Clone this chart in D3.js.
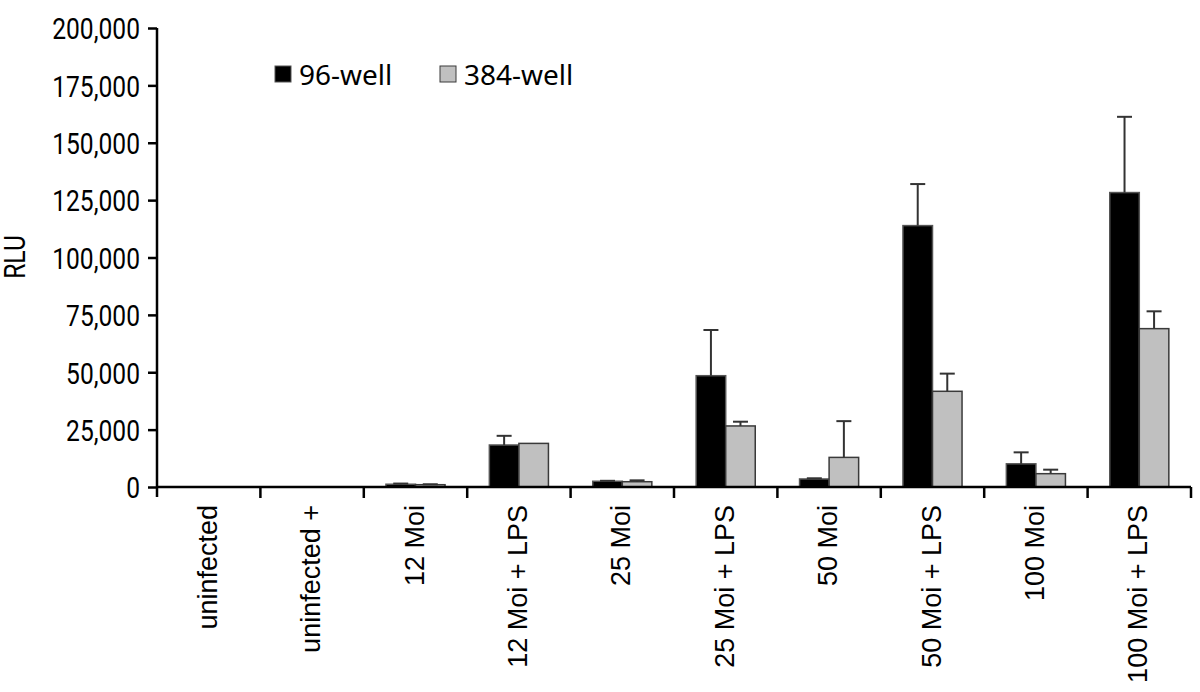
<!DOCTYPE html>
<html>
  <head>
    <meta http-equiv="content-type" content="text/html; charset=utf-8" />
    <title>RLU 96-well vs 384-well</title>
    <script type="text/javascript" src="https://cdn.jsdelivr.net/npm/d3@7"></script>
    <style type="text/css">
      body { margin: 0; background: #fff; }
    </style>
  </head>
  <body>
    <script type="text/javascript">
// values, bar heights and the upper error
      var categories = ["uninfected", "uninfected +", "12 Moi", "12 Moi + LPS",
                        "25 Moi", "25 Moi + LPS", "50 Moi", "50 Moi + LPS",
                        "100 Moi", "100 Moi + LPS"];
      var series = ["96-well", "384-well"];
      var well96 = [0, 0, 1200, 18300, 2500, 48500, 3500, 113900, 10100, 128300];
      var err96 = [0, 0, 300, 4000, 200, 19900, 300, 18100, 5000, 33000];
      var well384 = [0, 0, 1000, 19000, 2300, 26600, 12900, 41700, 5800, 69000];
      var err384 = [0, 0, 200, 0, 600, 1850, 15800, 7700, 1750, 7550];
      var yTicks = [0, 25000, 50000, 75000, 100000, 125000, 150000, 175000, 200000];

// note: "top" is taken by window.top, so plotTop / plotBottom
      var w = 1200,
          h = 692,
          plotLeft = 157,
          plotRight = 1191,
          plotTop = 28,
          plotBottom = 487;

      var fills = {"96-well": "#000", "384-well": "#c0c0c0"};
      var strokes = {"96-well": "#555", "384-well": "#3a3a3a"};

      var svg = d3.select("body").append("svg")
        .attr("width", w)
        .attr("height", h);

      var x0 = d3.scaleBand()
        .domain(categories)
        .range([plotLeft, plotRight])
        .paddingInner(0)
        .paddingOuter(0);

      var x1 = d3.scaleBand()
        .domain(series)
        .range([0, x0.bandwidth()])
        .paddingInner(0)
        .paddingOuter(0.75);

      var y = d3.scaleLinear()
        .domain([0, 200000])
        .range([plotBottom, plotTop]);

      var rows = categories.map(function(c, i) {
        return [
          {cat: c, s: "96-well", v: well96[i], e: err96[i]},
          {cat: c, s: "384-well", v: well384[i], e: err384[i]}
        ];
      });
      var flat = [].concat.apply([], rows);

// bars
      svg.append("g").selectAll("rect")
        .data(flat)
        .enter()
          .append("rect")
          .attr("x", function(d) { return x0(d.cat) + x1(d.s); })
          .attr("y", function(d) { return y(d.v); })
          .attr("width", x1.bandwidth())
          .attr("height", function(d) { return y(0) - y(d.v); })
          .attr("fill", function(d) { return fills[d.s]; })
          .attr("stroke", function(d) { return strokes[d.s]; })
          .attr("stroke-width", 1.5);

// error bars, only the upper half is drawn
      var errs = svg.append("g")
        .selectAll("g")
        .data(flat.filter(function(d) { return d.e > 0; }))
        .enter()
          .append("g")
          .attr("stroke", "#333")
          .attr("stroke-width", 2);

      errs.append("line")
        .attr("x1", function(d) { return x0(d.cat) + x1(d.s) + x1.bandwidth() / 2; })
        .attr("x2", function(d) { return x0(d.cat) + x1(d.s) + x1.bandwidth() / 2; })
        .attr("y1", function(d) { return y(d.v); })
        .attr("y2", function(d) { return y(d.v + d.e); });

      errs.append("line")
        .attr("x1", function(d) { return x0(d.cat) + x1(d.s) + x1.bandwidth() / 2 - 7.5; })
        .attr("x2", function(d) { return x0(d.cat) + x1(d.s) + x1.bandwidth() / 2 + 7.5; })
        .attr("y1", function(d) { return y(d.v + d.e); })
        .attr("y2", function(d) { return y(d.v + d.e); });

// y axis
      var yAxis = d3.axisLeft(y)
        .tickValues(yTicks)
        .tickSize(9)
        .tickSizeOuter(0)
        .tickFormat(d3.format(","));

      var gy = svg.append("g")
        .attr("transform", "translate(" + plotLeft + ",0)")
        .call(yAxis);

      gy.select(".domain")
        .attr("stroke", "#000")
        .attr("stroke-width", 2.5)
        .attr("d", "M0," + plotTop + "V" + (plotBottom + 10));
      gy.selectAll(".tick line")
        .attr("stroke", "#000")
        .attr("stroke-width", 2.5);
      gy.selectAll(".tick text")
        .attr("x", 0)
        .attr("dy", "0.36em")
        .attr("transform", "translate(-17,0) scale(0.82,1)")
        .attr("fill", "#000")
        .style("font-family", "Roboto, sans-serif")
        .style("font-size", "30px");

// x axis: ticks sit on the band edges
      var edges = categories.map(function(c) { return x0(c) + x0.bandwidth(); });

      svg.append("line")
        .attr("x1", plotLeft)
        .attr("x2", plotRight)
        .attr("y1", y(0))
        .attr("y2", y(0))
        .attr("stroke", "#000")
        .attr("stroke-width", 2.5);

      svg.append("g").selectAll("line")
        .data(edges)
        .enter()
          .append("line")
          .attr("x1", function(d) { return d; })
          .attr("x2", function(d) { return d; })
          .attr("y1", y(0))
          .attr("y2", y(0) + 11)
          .attr("stroke", "#000")
          .attr("stroke-width", 2.5);

      svg.append("g").selectAll("text")
        .data(categories)
        .enter()
          .append("text")
          .attr("transform", function(d) {
            return "translate(" + (x0(d) + x0.bandwidth() / 2 + 8) + ",505) rotate(-90)";
          })
          .attr("text-anchor", "end")
          .attr("fill", "#000")
          .style("font-family", "'Liberation Sans', Arial, sans-serif")
          .style("font-size", "27px")
          .text(function(d) { return d; });

// axis title
      svg.append("text")
        .attr("transform", "translate(25,257) rotate(-90) scale(0.82,1)")
        .attr("text-anchor", "middle")
        .attr("fill", "#000")
        .style("font-family", "Roboto, sans-serif")
        .style("font-size", "30px")
        .text("RLU");

// legend
      var legendX = [275, 440];
      var leg = svg.append("g").selectAll("g")
        .data(series)
        .enter()
          .append("g")
          .attr("transform", function(d, i) { return "translate(" + legendX[i] + ",66)"; });

      leg.append("rect")
        .attr("width", 16)
        .attr("height", 16)
        .attr("fill", function(d) { return fills[d]; })
        .attr("stroke", function(d) { return strokes[d]; })
        .attr("stroke-width", 1);

      leg.append("text")
        .attr("x", 24)
        .attr("y", 19)
        .attr("fill", "#000")
        .style("font-family", "'Noto Sans', sans-serif")
        .style("font-size", "28px")
        .text(function(d) { return d; });
    </script>
  </body>
</html>
